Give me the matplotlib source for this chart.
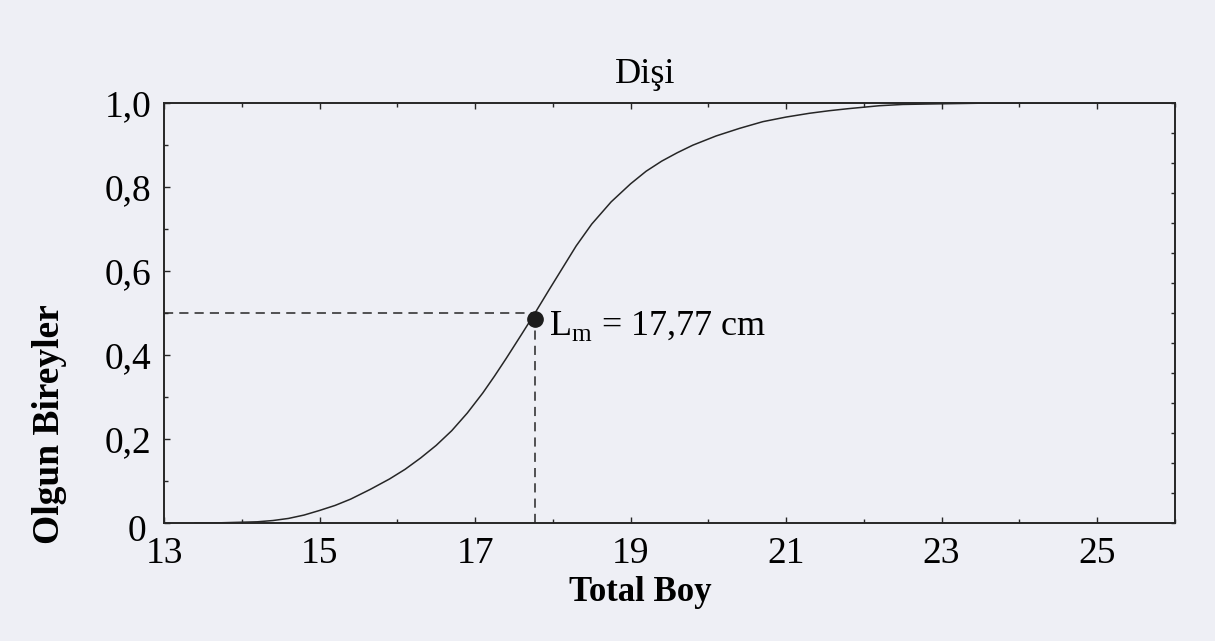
import matplotlib
matplotlib.use("Agg")
import matplotlib.pyplot as plt
from matplotlib.ticker import MultipleLocator

plt.rcParams['font.family'] = ['Liberation Serif', 'DejaVu Serif']
plt.rcParams['mathtext.fontset'] = 'custom'
plt.rcParams['mathtext.rm'] = 'Liberation Serif'

# olgunluk egrisi (disi)
boy = [13.4, 13.6, 14.0, 14.2, 14.4, 14.6, 14.8, 15.0, 15.2, 15.4, 15.65,
       15.9, 16.1, 16.3, 16.5, 16.7, 16.9, 17.1, 17.25, 17.4, 17.6, 17.77,
       17.95, 18.1, 18.3, 18.5, 18.75, 19.0, 19.2, 19.4, 19.6, 19.8, 20.1,
       20.4, 20.7, 21.0, 21.3, 21.55, 21.8, 22.2, 22.5, 22.8, 23.5, 26.0]
oran = [0.0, 0.0, 0.002, 0.003, 0.006, 0.011, 0.019, 0.030, 0.042, 0.057,
        0.080, 0.105, 0.128, 0.155, 0.185, 0.220, 0.262, 0.310, 0.350,
        0.392, 0.450, 0.50, 0.555, 0.600, 0.660, 0.712, 0.765, 0.808,
        0.838, 0.862, 0.882, 0.900, 0.922, 0.940, 0.956, 0.967, 0.976,
        0.982, 0.987, 0.994, 0.997, 0.998, 1.0, 1.0]

lm = 17.77
lm_oran = 0.5

x_ticks = [13, 15, 17, 19, 21, 23, 25]
y_ticks = [0, 0.2, 0.4, 0.6, 0.8, 1.0]
y_labels = ['', '0,2', '0,4', '0,6', '0,8', '1,0']

bg = '#eeeff5'
ink = '#262626'
fig = plt.figure(figsize=(12.15, 6.41), dpi=100, facecolor=bg)
ax = fig.add_axes([0.135, 0.184, 0.832, 0.655], facecolor=bg)

ax.plot(boy, oran, color=ink, lw=1.1, zorder=3)
ax.plot([13, lm], [lm_oran, lm_oran], color=ink, lw=1.1,
        dashes=(6, 4), zorder=2)
ax.plot([lm, lm], [0, lm_oran], color=ink, lw=1.1,
        dashes=(6, 4), zorder=2)
ax.plot([lm], [lm_oran - 0.015], 'o', color='#1c1c1c', ms=11, zorder=4)
ax.text(lm + 0.18, lm_oran - 0.03, r'L$_\mathrm{m}$ = 17,77 cm',
        fontsize=26, va='center', ha='left')

ax.set_xlim(13, 26)
ax.set_ylim(0, 1.0)
ax.set_xticks(x_ticks)
ax.set_xticklabels([str(t) for t in x_ticks])
ax.xaxis.set_minor_locator(MultipleLocator(1))
ax.set_yticks(y_ticks)
ax.set_yticklabels(y_labels)
ax.yaxis.set_minor_locator(MultipleLocator(0.1))
ax.tick_params(which='both', direction='in', top=True, right=False,
               labelsize=27, color=ink, width=1.0)
ax.tick_params(which='major', length=4)
ax.tick_params(which='minor', length=3)
ax.tick_params(axis='x', pad=10)
ax.tick_params(axis='y', pad=9)
for s in ax.spines.values():
    s.set_linewidth(1.4)
    s.set_color(ink)

# sifir etiketi biraz asagida, 13'un solunda
ax.annotate('0', xy=(0, 0), xycoords='axes fraction', xytext=(-13, -6),
            textcoords='offset points', fontsize=27, ha='right', va='center')

# sag eksen kendi bolmeleriyle
ax2 = ax.twinx()
ax2.set_ylim(0, 14)
ax2.set_yticks(range(15))
ax2.set_yticklabels([])
ax2.tick_params(direction='in', length=3, color=ink, width=1.0)
for s in ax2.spines.values():
    s.set_visible(False)

fig.text(0.531, 0.883, 'Dişi', fontsize=26, ha='center', va='center')
fig.text(0.527, 0.075, 'Total Boy', fontsize=25, fontweight='bold',
         ha='center', va='center')
fig.text(0.041, 0.338, 'Olgun Bireyler', fontsize=27, fontweight='bold',
         rotation=90, ha='center', va='center')

fig.savefig('out.png', dpi=100, facecolor=bg)
